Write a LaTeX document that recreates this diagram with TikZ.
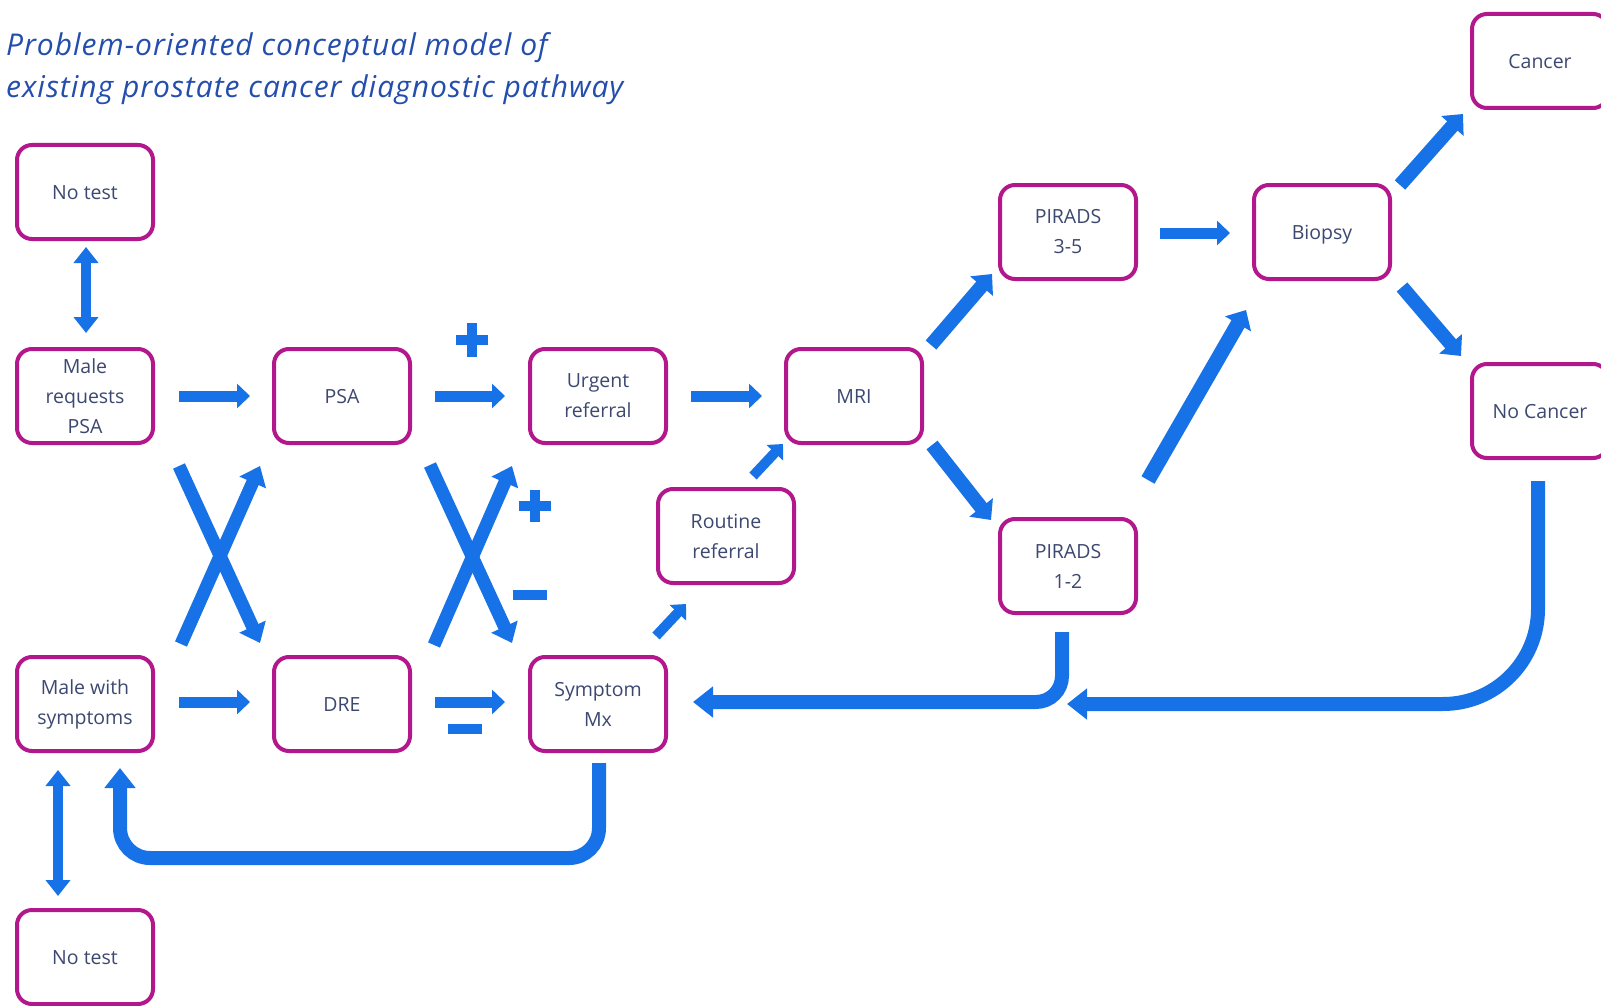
\documentclass[tikz,border=0pt]{standalone}
\usepackage{fontspec}
\setmainfont{Open Sans}
\usetikzlibrary{arrows.meta}
\definecolor{flowblue}{RGB}{22,114,230}
\definecolor{boxrim}{RGB}{178,24,140}
\definecolor{boxtext}{RGB}{60,72,112}
\definecolor{titleblue}{RGB}{36,78,172}

\begin{document}
\begin{tikzpicture}[x=1pt,y=-1pt,
  stage/.style={draw=boxrim, line width=4pt, rounded corners=15pt,
    minimum width=136pt, minimum height=94pt, inner sep=0pt,
    align=center, text=boxtext, font=\fontsize{19.5}{30}\selectfont},
  oneline/.style={stage, text height=16pt, text depth=1pt},
  flow/.style={draw=flowblue, line width=11pt, -{Triangle[width=24pt,length=13pt]}},
  slant/.style={draw=flowblue, line width=14pt, -{Triangle[width=29pt,length=16pt]}},
  cross/.style={draw=flowblue, line width=13pt, -{Triangle[width=28pt,length=18pt]}},
  minor/.style={draw=flowblue, line width=10pt, -{Triangle[width=22pt,length=12pt]}},
  both/.style={draw=flowblue, line width=10pt,
    {Triangle[width=24pt,length=16pt]}-{Triangle[width=24pt,length=16pt]}},
  loop/.style={draw=flowblue, line width=14pt, -{Triangle[width=30pt,length=20pt]}},
  sign/.style={draw=flowblue, line width=10pt},
  heading/.style={anchor=base west, text=titleblue, inner sep=0pt,
    font=\fontsize{30}{42}\selectfont\itshape\addfontfeature{LetterSpace=3.3}}
]
\useasboundingbox (0,0) rectangle (1601,1006);
\fill[white] (0,0) rectangle (1601,1006);

% title
\node[heading] (title1) at (6,56) {Problem-oriented conceptual model of};
\node[heading] (title2) at (6,98) {existing prostate cancer diagnostic pathway};

% stages
\node[oneline] (notest1)  at (85,192)   {No test};
\node[stage]   (male)     at (85,396)   {Male\\requests\\PSA};
\node[stage]   (malesym)  at (85,704)   {Male with\\symptoms};
\node[oneline] (notest2)  at (85,957)   {No test};
\node[oneline] (psa)      at (342,396)  {PSA};
\node[oneline] (dre)      at (342,704)  {DRE};
\node[stage]   (urgent)   at (598,396)  {Urgent\\referral};
\node[stage]   (symptom)  at (598,704)  {Symptom\\Mx};
\node[stage]   (routine)  at (726,536)  {Routine\\referral};
\node[oneline] (mri)      at (854,396)  {MRI};
\node[stage]   (p35)      at (1068,232) {PIRADS\\3-5};
\node[stage]   (p12)      at (1068,566) {PIRADS\\1-2};
\node[oneline] (biopsy)   at (1322,232) {Biopsy};
\node[oneline] (cancer)   at (1540,61)  {Cancer};
\node[oneline] (nocancer) at (1540,411) {No Cancer};

% straight connectors
\draw[both] ([shift={(1,6)}]notest1.south) -- ([shift={(1,-14)}]male.north);
\draw[flow, shorten <=24pt, shorten >=22pt] (male.east) -- (psa.west);
\draw[flow, shorten <=23pt, shorten >=23pt] (psa.east) -- (urgent.west);
\draw[flow, shorten <=23pt, shorten >=22pt] (urgent.east) -- (mri.west);
\draw[flow, shorten <=24pt, shorten >=22pt] ([shift={(0,-2)}]malesym.east) -- ([shift={(0,-2)}]dre.west);
\draw[flow, shorten <=23pt, shorten >=23pt] ([shift={(0,-2)}]dre.east) -- ([shift={(0,-2)}]symptom.west);
\draw[flow, shorten <=22pt, shorten >=22pt] ([shift={(0,1)}]p35.east) -- ([shift={(0,1)}]biopsy.west);

% crossing connectors
\draw[cross] ([shift={(24,21)}]male.south east) -- ([shift={(-12,-12)}]dre.north west);
\draw[cross] ([shift={(26,-11)}]malesym.north east) -- ([shift={(-12,21)}]psa.south west);
\draw[cross] ([shift={(18,20)}]psa.south east) -- ([shift={(-16,-12)}]symptom.north west);
\draw[cross] ([shift={(22,-10)}]dre.north east) -- ([shift={(-16,21)}]urgent.south west);

% routine referral route
\draw[minor] ([shift={(-12,-19)}]symptom.north east) -- ([shift={(30,19)}]routine.south west);
\draw[minor] ([shift={(27,-11)}]routine.north) -- ([shift={(-1,-1)}]mri.south west);

% imaging and biopsy
\draw[slant] ([shift={(7,-2)}]mri.north east) -- ([shift={(-6,-7)}]p35.south west);
\draw[slant] ([shift={(8,0)}]mri.south east) -- ([shift={(-7,3)}]p12.north west);
\draw[slant, line width=15pt] ([shift={(10,-37)}]p12.north east) -- ([shift={(-6,29)}]biopsy.south west);
\draw[slant] ([shift={(8,2)}]biopsy.north east) -- ([shift={(-7,4)}]cancer.south west);
\draw[slant] ([shift={(10,6)}]biopsy.south east) -- ([shift={(-9,-6)}]nocancer.north west);

% return loops
\draw[loop, rounded corners=95pt] ([shift={(-2,21)}]nocancer.south) |- ([shift={(-1,89)}]p12.south);
\draw[loop, rounded corners=26pt] ([shift={(-6,17)}]p12.south) |- ([shift={(25,-2)}]symptom.east);
\draw[loop, rounded corners=30pt] ([shift={(1,10)}]symptom.south) -- ([shift={(1,105)}]symptom.south)
  -| ([shift={(35,15)}]malesym.south);
\draw[both] ([shift={(-27,17)}]malesym.south) -- ([shift={(-27,-12)}]notest2.north);

% result signs
\draw[sign] (456,340) -- (488,340);
\draw[sign] (472,323) -- (472,357);
\draw[sign] (519,506) -- (551,506);
\draw[sign] (535,490) -- (535,522);
\draw[sign] (513,595) -- (547,595);
\draw[sign] (448,729) -- (482,729);
\end{tikzpicture}
\end{document}
